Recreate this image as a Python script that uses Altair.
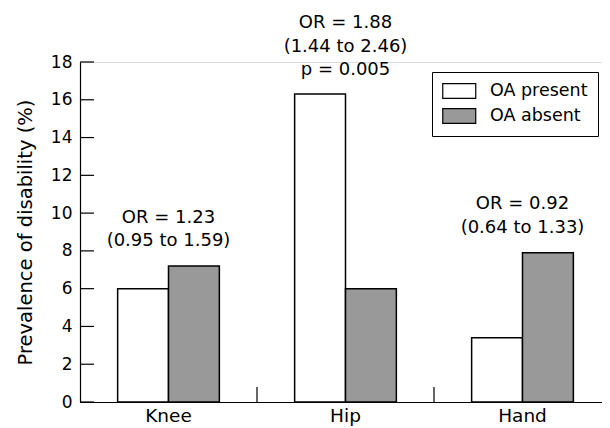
import altair as alt
import pandas as pd

categories = ["Knee", "Hip", "Hand"]
series = ["OA present", "OA absent"]
oa_present = [6.0, 16.3, 3.4]
oa_absent = [7.2, 6.0, 7.9]
ann_lines = [
    ["OR = 1.23", "(0.95 to 1.59)"],
    ["OR = 1.88", "(1.44 to 2.46)", "p = 0.005"],
    ["OR = 0.92", "(0.64 to 1.33)"],
]
ann_y = [9.5, 19.8, 10.2]
y_ticks = [0, 2, 4, 6, 8, 10, 12, 14, 16, 18]
sep_ticks = ["Hip", "Hand"]

FONT = "DejaVu Sans"
W, H = 522, 340

rows = []
for c, p, a in zip(categories, oa_present, oa_absent):
    rows.append({"cat": c, "series": series[0], "value": p})
    rows.append({"cat": c, "series": series[1], "value": a})
bars_df = pd.DataFrame(rows)
ann_df = pd.DataFrame({"cat": categories, "text": ann_lines, "y": ann_y})
yt_df = pd.DataFrame({"v": y_ticks})
xt_df = pd.DataFrame({"cat": sep_ticks})

xscale = alt.Scale(domain=categories, paddingInner=0, paddingOuter=0, range=[0, 531])
yscale = alt.Scale(domain=[0, 18], nice=False)

xaxis = alt.Axis(title=None, labelAngle=0, ticks=False, domainColor="black", grid=False,
                 domainWidth=1.2, labelFontSize=18.5, labelFont=FONT,
                 labelColor="black", labelPadding=4)
yaxis = alt.Axis(title="Prevalence of disability (%)", values=y_ticks, ticks=False,
                 grid=False, domainColor="black", domainWidth=1.2,
                 labelFontSize=17, labelFont=FONT, labelColor="black",
                 labelOverlap=False, labelFlush=False,
                 labelPadding=8, titleFontSize=19.5, titleFont=FONT,
                 titleFontWeight="normal", titleColor="black", titlePadding=15)

bars = alt.Chart(bars_df).mark_bar(stroke="black", strokeWidth=1.5).encode(
    x=alt.X("cat:N", scale=xscale, sort=categories, axis=xaxis),
    xOffset=alt.XOffset("series:N", sort=series,
                        scale=alt.Scale(domain=series, paddingInner=0, paddingOuter=0.74)),
    y=alt.Y("value:Q", scale=yscale, axis=yaxis),
    fill=alt.Fill("series:N", sort=series,
                  scale=alt.Scale(domain=series, range=["white", "#999999"]),
                  legend=alt.Legend(title=None, orient="none", legendX=352, legendY=10,
                                    padding=10, strokeColor="black", fillColor="white",
                                    labelFontSize=17.5, labelFont=FONT, labelColor="black",
                                    symbolType="M-1,-0.9H3V0.9H-1Z", symbolSize=272,
                                    symbolStrokeColor="black", symbolStrokeWidth=1.2,
                                    symbolOpacity=1, labelOffset=30, rowPadding=5)),
)

ann = alt.Chart(ann_df).mark_text(fontSize=18, font=FONT, color="black", baseline="alphabetic",
                                  align="center", lineHeight=23.5, clip=False).encode(
    x=alt.X("cat:N", scale=xscale, sort=categories, axis=xaxis),
    y=alt.Y("y:Q", scale=yscale, axis=yaxis),
    text="text",
)

yticks = alt.Chart(yt_df).mark_rule(color="black", strokeWidth=1.2).encode(
    y=alt.Y("v:Q", scale=yscale, axis=yaxis), x=alt.value(0), x2=alt.value(14)
)

xticks = alt.Chart(xt_df).mark_rule(color="black", strokeWidth=1.2).encode(
    x=alt.X("cat:N", scale=xscale, sort=categories, bandPosition=0, axis=xaxis),
    y=alt.value(H), y2=alt.value(H - 15),
)

chart = alt.layer(bars, ann, yticks, xticks).properties(
    width=W, height=H,
    autosize=alt.AutoSizeParams(type="none"),
    padding={"left": 72, "top": 54, "right": 0, "bottom": 24},
).configure_view(strokeWidth=0).configure(background="white")

chart.save("out.html", embed_options={"renderer": "svg", "actions": False})
